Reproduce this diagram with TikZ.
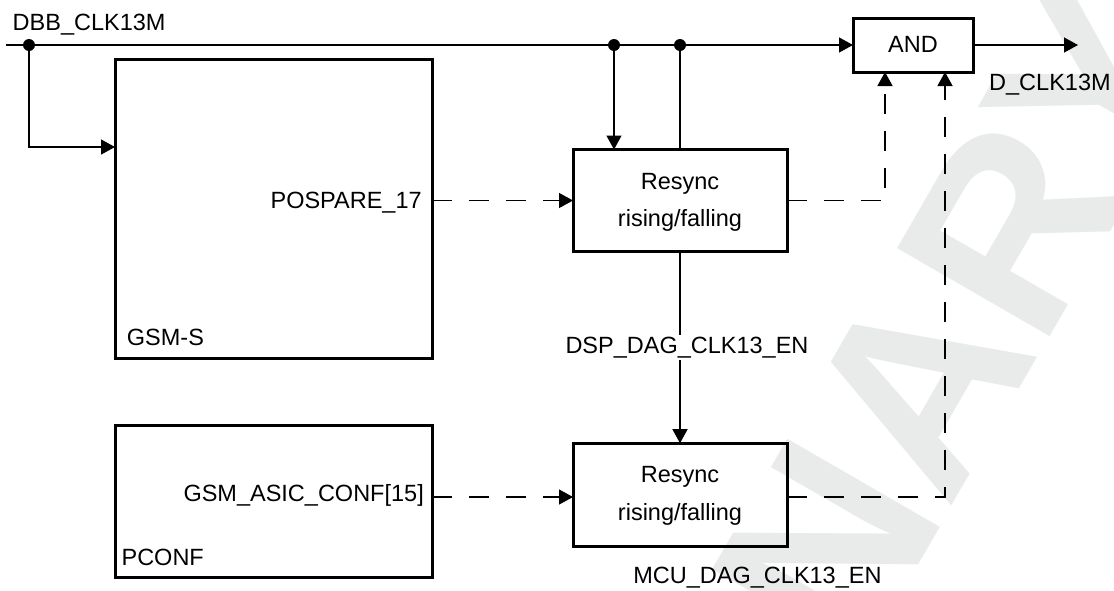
\documentclass[tikz,border=0pt]{standalone}
\usepackage{fontspec}
\setmainfont{Liberation Sans}
\usetikzlibrary{arrows.meta,calc}

\definecolor{wmgray}{RGB}{233,234,234}

\begin{document}
\begin{tikzpicture}[x=1pt,y=-1pt,
  blk/.style={draw, line width=3pt, inner sep=0pt, outer sep=0pt},
  lab/.style={font=\fontsize{23.5}{28}\selectfont, inner sep=0pt},
  wm/.style={text=wmgray, font=\bfseries\fontsize{256}{300}\selectfont, inner sep=0pt},
  wire/.style={line width=1.3pt},
  dashwire/.style={line width=1.3pt, dash pattern=on 20pt off 17pt},
  arr/.style={-{Triangle[length=14pt,width=15pt]}},
  dot/.style={circle, fill, inner sep=0pt, minimum size=12pt}]

\useasboundingbox (0,0) rectangle (1114,590);
\fill[white] (0,0) rectangle (1114,590);

% background watermark
\begin{scope}
  \clip (0,0) rectangle (1114,590);
  \node[wm, anchor=base west, rotate=60] (wmb) at (948.6,511.9) {ARY};
  \node[wm, anchor=base east, rotate=60] (wma) at (948.6,511.9) {PRELIMIN};
\end{scope}

% blocks
\node[blk, minimum width=317pt, minimum height=299pt] (gsms) at (273.5,208.5) {};
\node[blk, minimum width=317pt, minimum height=152pt] (pconf) at (273.5,501) {};
\node[blk, minimum width=214pt, minimum height=102pt] (rs1) at (680,200.5) {};
\node[blk, minimum width=214pt, minimum height=103pt] (rs2) at (680,494.7) {};
\node[blk, minimum width=120pt, minimum height=54pt] (andg) at (913,45) {};

% texts
\node[lab, anchor=base west] (tin) at (12.5,30) {DBB\_CLK13M};
\node[lab, anchor=base west] (tout) at (989,90.7) {D\_CLK13M};
\node[lab, anchor=base] (tand) at (913,52.7) {AND};
\node[lab, anchor=base east] (tpos) at (421.9,208.3) {POSPARE\_17};
\node[lab, anchor=base west] (tgsms) at (126.7,345.7) {GSM-S};
\node[lab, anchor=base east] (tasic) at (424,501.5) {GSM\_ASIC\_CONF[15]};
\node[lab, anchor=base west] (tpconf) at (121.4,565) {PCONF};
\node[lab, anchor=base, inner ysep=2pt] (tdsp) at (687,353.3) {DSP\_DAG\_CLK13\_EN};
\node[lab, anchor=base west] (tmcu) at (633.2,583.5) {MCU\_DAG\_CLK13\_EN};
\node[lab, anchor=base] (r1a) at (680,189) {Resync};
\node[lab, anchor=base] (r1b) at (680,226.5) {rising/falling};
\node[lab, anchor=base] (r2a) at (680,482.7) {Resync};
\node[lab, anchor=base] (r2b) at (680,520) {rising/falling};

% clock net
\coordinate (cin) at (6,45);
\coordinate (cout) at (1078,45);
\node[dot] (j1) at (29,45) {};
\node[dot] (j2) at (614,45) {};
\node[dot] (j3) at (680,45) {};

\draw[wire, arr] (cin) -- (andg.west);
\draw[wire, arr] (j1.center) |- ([yshift=-88pt]gsms.north west);
\draw[wire, arr] (j2.center) -- (j2 |- rs1.north);
\draw[wire] (j3.center) -- (j3 |- rs1.north);
\draw[wire, arr] (andg.east) -- (cout);

% enable chain
\draw[wire] (rs1.south) -- (rs1.south |- tdsp.north);
\draw[wire, arr] (rs1.south |- tdsp.south) -- (rs2.north);

% dashed control paths
\coordinate (rs2in) at ([yshift=-2.3pt]rs2.west);
\coordinate (rs2out) at ([yshift=-2.3pt]rs2.east);
\draw[dashwire, arr] (gsms.east |- rs1.west) -- (rs1.west);
\draw[dashwire, arr] (pconf.east |- rs2in) -- (rs2in);
\draw[dashwire, arr] (rs1.east) -| ([xshift=-28pt]andg.south);
\draw[dashwire, arr] (rs2out) -| ([xshift=32pt]andg.south);
\end{tikzpicture}
\end{document}
